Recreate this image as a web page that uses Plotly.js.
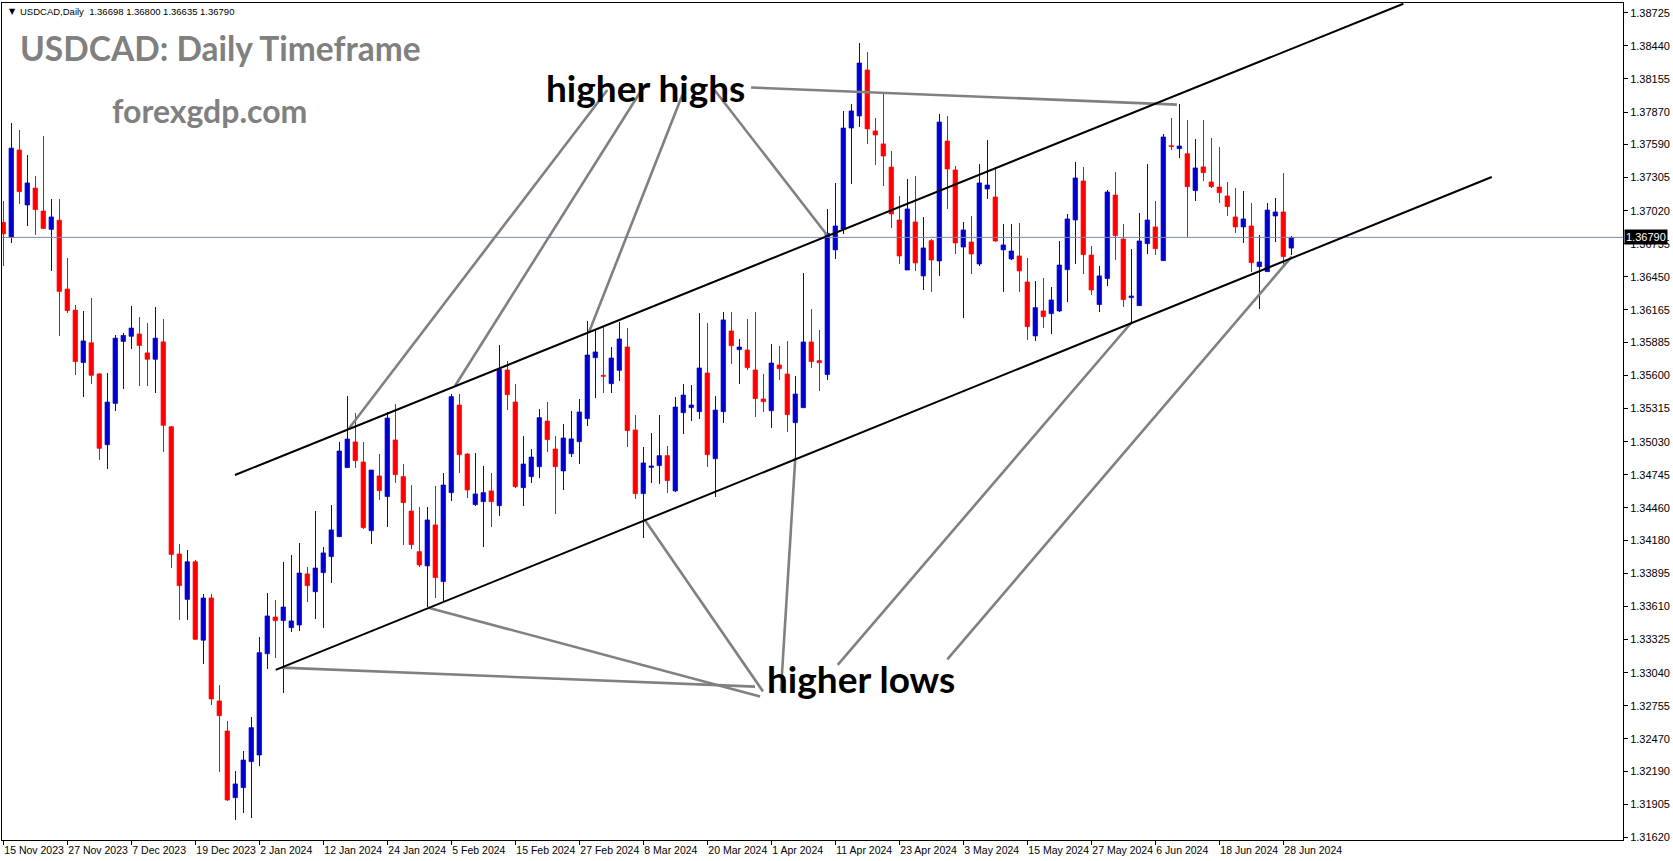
<!DOCTYPE html>
<html>
<head>
<meta charset="utf-8">
<script src="https://cdn.plot.ly/plotly-3.0.1.min.js"></script>
<style>
html,body{margin:0;padding:0;background:#fff;}
#chart{width:1673px;height:861px;}
</style>
</head>
<body>
<div id="chart"></div>
<script>
// ---- OHLC data (bar index 0 = 15 Nov 2023) ----
const openP = [1.36919,1.36792,1.37543,1.37069,1.37215,1.37017,1.36859,1.36938,1.36345,1.36163,
1.35712,1.35882,1.35614,1.35004,1.35360,1.35894,1.35938,1.35958,1.35795,1.35740,
1.35890,1.35159,1.34063,1.33672,1.33996,1.33320,1.33684,1.32797,1.32538,1.31964,
1.32050,1.32274,1.32331,1.33204,1.33520,1.33489,1.33428,1.33451,1.33891,1.33738,
1.33902,1.34040,1.34212,1.34807,1.35028,1.34855,1.34264,1.34735,1.34557,1.35045,
1.34729,1.34433,1.34083,1.33960,1.34313,1.33825,1.34591,1.35346,1.34924,1.34488,
1.34514,1.34606,1.34479,1.35648,1.35372,1.34634,1.34729,1.34815,1.35208,1.34967,
1.34778,1.34927,1.35030,1.35229,1.35754,1.35602,1.35530,1.35645,1.35846,1.35131,
1.34583,1.34809,1.34824,1.34910,1.34606,1.35280,1.35323,1.35289,1.35622,1.34884,
1.35289,1.35984,1.35823,1.35820,1.35648,1.35398,1.35297,1.35691,1.35613,1.35194,
1.35323,1.35889,1.35728,1.35608,1.36682,1.36862,1.37732,1.37836,1.38232,1.37707,
1.37595,1.37396,1.36940,1.36509,1.36923,1.36458,1.36762,1.36587,1.37620,1.37371,
1.36707,1.36750,1.36561,1.37207,1.37138,1.36682,1.36604,1.36630,1.36406,1.35941,
1.36156,1.36133,1.36156,1.36512,1.36940,1.37276,1.36638,1.36211,1.36435,1.37155,
1.36776,1.36271,1.36202,1.36736,1.36880,1.36590,1.37580,1.37554,1.37511,1.37193,
1.37397,1.37267,1.37224,1.37147,1.36966,1.36880,1.36888,1.36538,1.36495,1.36974,
1.37009,1.36698];
const highP = [1.37104,1.37777,1.37713,1.37500,1.37318,1.37662,1.37120,1.37120,1.36614,1.36207,
1.36155,1.36270,1.35625,1.35621,1.35950,1.35965,1.36199,1.36104,1.36053,1.36191,
1.36088,1.35167,1.34150,1.34099,1.34012,1.33715,1.33715,1.32934,1.32624,1.32194,
1.32369,1.32659,1.33351,1.33727,1.33667,1.33997,1.34054,1.34160,1.33951,1.34433,
1.34123,1.34488,1.35028,1.35424,1.35280,1.35028,1.34790,1.34924,1.35289,1.35355,
1.34838,1.34660,1.34471,1.34471,1.34649,1.34758,1.35441,1.35441,1.34930,1.34933,
1.34821,1.34763,1.35863,1.35725,1.35527,1.35082,1.34967,1.35312,1.35375,1.35082,
1.35183,1.35295,1.35398,1.36070,1.35998,1.36018,1.35846,1.36061,1.36012,1.35260,
1.34987,1.35105,1.35260,1.34996,1.35415,1.35527,1.35519,1.36139,1.36053,1.35424,
1.36147,1.36147,1.35915,1.36087,1.36147,1.35613,1.35872,1.35854,1.35898,1.35596,
1.36486,1.36173,1.35992,1.37035,1.37259,1.37879,1.37939,1.38465,1.38387,1.37819,
1.38037,1.37534,1.37147,1.37293,1.37319,1.36966,1.36774,1.37853,1.37836,1.37405,
1.36923,1.36974,1.37422,1.37629,1.37396,1.36906,1.36906,1.36914,1.36613,1.36417,
1.36440,1.36366,1.36762,1.36992,1.37440,1.37397,1.36716,1.36544,1.37198,1.37353,
1.36906,1.36690,1.37000,1.37422,1.37104,1.37681,1.37819,1.37940,1.37801,1.37638,
1.37801,1.37649,1.37572,1.37270,1.37218,1.37190,1.37086,1.36811,1.37084,1.37130,
1.37345,1.36800];
const lowP = [1.36543,1.36741,1.37077,1.36891,1.36812,1.36859,1.36503,1.35938,1.36136,1.35602,
1.35412,1.35523,1.34870,1.34799,1.35297,1.35487,1.35831,1.35507,1.35507,1.35448,
1.34941,1.33941,1.33498,1.33498,1.33320,1.33114,1.32758,1.32188,1.31935,1.31772,
1.31829,1.31786,1.32240,1.33075,1.33170,1.32868,1.33394,1.33402,1.33652,1.33506,
1.33428,1.33816,1.34212,1.34801,1.34807,1.34275,1.34152,1.34528,1.34298,1.34677,
1.34143,1.34103,1.33954,1.33603,1.33681,1.33652,1.34522,1.34763,1.34548,1.34479,
1.34126,1.34298,1.34393,1.35303,1.34634,1.34479,1.34677,1.34720,1.34944,1.34410,
1.34617,1.34901,1.34841,1.35168,1.35410,1.35453,1.35453,1.35556,1.34987,1.34537,
1.34204,1.34672,1.34666,1.34591,1.34594,1.35096,1.35211,1.35229,1.34815,1.34557,
1.35194,1.35702,1.35530,1.35651,1.35246,1.35289,1.35151,1.35565,1.35117,1.34893,
1.35323,1.35668,1.35470,1.35565,1.36604,1.36819,1.37250,1.37741,1.37595,1.37414,
1.37233,1.36871,1.36561,1.36509,1.36501,1.36337,1.36320,1.36458,1.37035,1.36647,
1.36096,1.36475,1.36544,1.37121,1.36750,1.36320,1.36595,1.36320,1.35906,1.35900,
1.36007,1.35958,1.36150,1.36237,1.36561,1.36478,1.36294,1.36150,1.36374,1.36598,
1.36193,1.36058,1.36202,1.36650,1.36641,1.36590,1.37543,1.37477,1.36796,1.37107,
1.37279,1.37218,1.37089,1.36974,1.36828,1.36745,1.36495,1.36173,1.36495,1.36748,
1.36552,1.36635];
const closeP = [1.36820,1.37559,1.37184,1.37259,1.37029,1.36867,1.36966,1.36325,1.36159,1.35720,
1.35898,1.35602,1.34973,1.35372,1.35922,1.35946,1.36009,1.35859,1.35740,1.35922,
1.35171,1.34059,1.33790,1.33996,1.33328,1.33684,1.32814,1.32670,1.31944,1.32082,
1.32288,1.32567,1.33213,1.33529,1.33489,1.33606,1.33486,1.33899,1.33790,1.33942,
1.34072,1.34270,1.34950,1.35053,1.34867,1.34290,1.34786,1.34608,1.35234,1.34746,
1.34505,1.34143,1.33968,1.34356,1.33859,1.34657,1.35418,1.34918,1.34614,1.34580,
1.34591,1.34514,1.35654,1.35435,1.34643,1.34838,1.34898,1.35237,1.35048,1.34815,
1.35062,1.35054,1.35286,1.35777,1.35803,1.35593,1.35751,1.35915,1.35125,1.34583,
1.34847,1.34821,1.34910,1.34695,1.35329,1.35432,1.35346,1.35665,1.34918,1.35303,
1.36079,1.35857,1.35846,1.35668,1.35401,1.35375,1.35708,1.35659,1.35263,1.35441,
1.35889,1.35720,1.35711,1.36825,1.36888,1.37732,1.37879,1.38292,1.37724,1.37672,
1.37491,1.36992,1.36630,1.37035,1.36570,1.36699,1.36595,1.37784,1.37379,1.36742,
1.36854,1.36647,1.37259,1.37241,1.36759,1.36725,1.36673,1.36501,1.36021,1.36185,
1.36107,1.36251,1.36552,1.36949,1.37302,1.36641,1.36337,1.36458,1.37181,1.36805,
1.36254,1.36285,1.36759,1.36940,1.36693,1.37655,1.37572,1.37577,1.37227,1.37388,
1.37348,1.37227,1.37175,1.37055,1.36880,1.36949,1.36572,1.36578,1.37026,1.37009,
1.36624,1.36790];

// ---- axis labels ----
const xTickIdx = [0,8,16,24,32,40,48,56,64,72,80,88,96,104,112,120,128,136,144,152,160];
const xTickText = ['15 Nov 2023','27 Nov 2023','7 Dec 2023','19 Dec 2023','2 Jan 2024','12 Jan 2024',
'24 Jan 2024','5 Feb 2024','15 Feb 2024','27 Feb 2024','8 Mar 2024','20 Mar 2024','1 Apr 2024',
'11 Apr 2024','23 Apr 2024','3 May 2024','15 May 2024','27 May 2024','6 Jun 2024','18 Jun 2024','28 Jun 2024'];
const yTickVals = [1.38725,1.38440,1.38155,1.37870,1.37590,1.37305,1.37020,1.36735,1.36450,1.36165,
1.35885,1.35600,1.35315,1.35030,1.34745,1.34460,1.34180,1.33895,1.33610,1.33325,1.33040,1.32755,
1.32470,1.32190,1.31905,1.31620];
const lastPrice = 1.36790;
const headerText = 'USDCAD,Daily  1.36698 1.36800 1.36635 1.36790';

// ---- channel lines [x0, y0, x1, y1] in (bar index, price) ----
const upperChannel = [28.96, 1.34743, 175.0, 1.38803];
const lowerChannel = [34.05, 1.33064, 186.05, 1.37310];
// annotation pointer lines
const highsLines = [
  [75.5, 1.38060, 43.13, 1.35137],
  [79.6, 1.38040, 56.46, 1.35510],
  [84.9, 1.38020, 73.18, 1.35969],
  [88.9, 1.38060, 102.96, 1.36811],
  [93.47, 1.38081, 146.7, 1.37934]
];
const lowsLines = [
  [34.8, 1.33084, 93.96, 1.32920],
  [53.13, 1.33600, 94.6, 1.32836],
  [80.13, 1.34362, 94.96, 1.32879],
  [99.0, 1.34892, 97.2, 1.32879],
  [141.05, 1.36059, 104.3, 1.33107],
  [161.05, 1.36624, 118.0, 1.33155]
];

const idx = openP.map((_, i) => i);
const isUp = idx.map(i => closeP[i] >= openP[i]);
const colUp = '#0000CC', colDn = '#FF0000';
const cols = isUp.map(u => u ? colUp : colDn);

const traces = [];
// wicks
traces.push({
  type: 'bar', x: idx, base: lowP, y: idx.map(i => highP[i] - lowP[i]),
  width: 0.16, marker: {color: cols, line: {width: 0}}, hoverinfo: 'skip', showlegend: false
});
// bodies
traces.push({
  type: 'bar', x: idx, base: idx.map(i => Math.min(openP[i], closeP[i])),
  y: idx.map(i => Math.abs(closeP[i] - openP[i])),
  width: 0.56, marker: {color: cols, line: {color: cols, width: 0.7}}, hoverinfo: 'skip', showlegend: false
});
// current price line
traces.push({type: 'scatter', mode: 'lines', x: [-1, 210], y: [lastPrice, lastPrice],
  line: {color: '#7d8aa6', width: 1}, hoverinfo: 'skip', showlegend: false});
// grey pointer lines
function segTrace(seg, color, width) {
  return {type: 'scatter', mode: 'lines', x: [seg[0], seg[2]], y: [seg[1], seg[3]],
    line: {color: color, width: width}, hoverinfo: 'skip', showlegend: false};
}
highsLines.forEach(s => traces.push(segTrace(s, '#808080', 2.6)));
lowsLines.forEach(s => traces.push(segTrace(s, '#808080', 2.6)));
traces.push(segTrace(upperChannel, '#000000', 2));
traces.push(segTrace(lowerChannel, '#000000', 2));

const layout = {
  width: 1673, height: 861,
  margin: {l: 2, r: 50, t: 3, b: 21},
  paper_bgcolor: '#ffffff', plot_bgcolor: '#ffffff',
  barmode: 'overlay', bargap: 0,
  showlegend: false,
  xaxis: {
    range: [-0.1625, 202.46], showgrid: false, zeroline: false,
    showline: true, linecolor: '#000', linewidth: 1, mirror: true,
    tickmode: 'array', tickvals: xTickIdx, ticktext: xTickText,
    ticks: 'outside', ticklen: 4, tickcolor: '#000', tickwidth: 1,
    tickangle: 0, automargin: false,
    ticklabelposition: 'outside right', ticklabeloverflow: 'allow',
    tickfont: {family: 'Liberation Sans, Arial, sans-serif', size: 10.5, color: '#000'},
    fixedrange: true
  },
  yaxis: {
    range: [1.31599, 1.38809], side: 'right', showgrid: false, zeroline: false,
    showline: true, linecolor: '#000', linewidth: 1, mirror: true,
    tickmode: 'array', tickvals: yTickVals, ticktext: yTickVals.map(v => v.toFixed(5)),
    ticks: 'outside', ticklen: 4, tickcolor: '#000', tickwidth: 1, automargin: false,
    tickfont: {family: 'Liberation Sans, Arial, sans-serif', size: 11, color: '#000'},
    fixedrange: true
  },
  annotations: [
    {xref: 'paper', yref: 'paper', x: 0.003, y: 0.9904, xanchor: 'left', yanchor: 'middle',
     text: '▼', showarrow: false, font: {family: 'DejaVu Sans', size: 8, color: '#000'}},
    {xref: 'paper', yref: 'paper', x: 0.0098, y: 0.9904, xanchor: 'left', yanchor: 'middle',
     text: headerText, showarrow: false, font: {family: 'Liberation Sans, Arial', size: 9.5, color: '#000'}},
    {xref: 'paper', yref: 'paper', x: 0.0098, y: 0.9459, xanchor: 'left', yanchor: 'middle',
     text: '<b>USDCAD: Daily Timeframe</b>', showarrow: false,
     font: {family: 'Lato, Open Sans, sans-serif', size: 33.5, color: '#808080'}},
    {xref: 'paper', yref: 'paper', x: 0.0666, y: 0.8716, xanchor: 'left', yanchor: 'middle',
     text: '<b>forexgdp.com</b>', showarrow: false,
     font: {family: 'Lato, Open Sans, sans-serif', size: 32, color: '#808080'}},
    {xref: 'x', yref: 'y', x: 80.3, y: 1.38077, xanchor: 'center', yanchor: 'middle',
     text: '<b>higher highs</b>', showarrow: false,
     font: {family: 'Lato, Open Sans, sans-serif', size: 37, color: '#000'}},
    {xref: 'x', yref: 'y', x: 107.15, y: 1.32986, xanchor: 'center', yanchor: 'middle',
     text: '<b>higher lows</b>', showarrow: false,
     font: {family: 'Lato, Open Sans, sans-serif', size: 37, color: '#000'}},
    {xref: 'paper', yref: 'y', x: 1.0005, y: lastPrice, xanchor: 'left', yanchor: 'middle',
     text: lastPrice.toFixed(5), showarrow: false, bgcolor: '#000', borderpad: 1,
     font: {family: 'Liberation Sans, Arial', size: 11, color: '#fff'}}
  ]
};

Plotly.newPlot('chart', traces, layout, {displayModeBar: false, staticPlot: true});
</script>
</body>
</html>
